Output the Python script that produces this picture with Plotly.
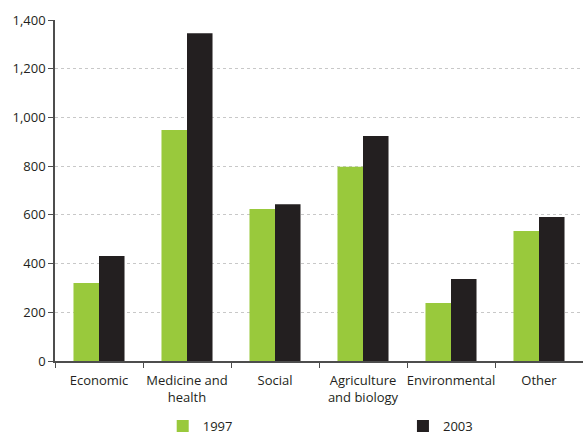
import plotly.graph_objects as go

categories = ["Economic", "Medicine and<br>health", "Social",
              "Agriculture<br>and biology", "Environmental", "Other"]
values_1997 = [320, 948, 624, 797, 238, 534]
values_2003 = [431, 1346, 644, 924, 337, 591]
y_ticks = [0, 200, 400, 600, 800, 1000, 1200, 1400]

GREEN = "#99c93c"
DARK = "#231f20"
FONT = "Open Sans"
FS = 13

fig = go.Figure()
fig.add_trace(go.Bar(name="1997", x=categories, y=values_1997,
                     marker=dict(color=GREEN, line=dict(width=0)),
                     legend="legend"))
fig.add_trace(go.Bar(name="2003", x=categories, y=values_2003,
                     marker=dict(color=DARK, line=dict(width=0)),
                     legend="legend2"))

legend_style = dict(orientation="h", yanchor="top", xanchor="left",
                    bgcolor="rgba(0,0,0,0)", itemwidth=30,
                    font=dict(family=FONT, size=FS, color=DARK))

fig.update_layout(
    width=583, height=434,
    margin=dict(l=55, r=0, t=20, b=73, autoexpand=False),
    paper_bgcolor="white", plot_bgcolor="white",
    barmode="group", bargap=0.42, bargroupgap=0,
    font=dict(family=FONT, size=FS, color=DARK),
    showlegend=True,
    legend=dict(x=0.204, y=-0.147, **legend_style),
    legend2=dict(x=0.659, y=-0.147, **legend_style),
)
fig.update_xaxes(
    showline=True, linecolor="#4d4d4d", linewidth=1.5,
    ticks="outside", tickson="boundaries", ticklen=5, tickcolor="#4d4d4d",
    tickangle=0, automargin=False, ticklabelstandoff=7,
    showgrid=False, tickfont=dict(family=FONT, size=FS, color=DARK),
)
fig.update_yaxes(
    range=[0, 1400], tickvals=y_ticks, tickformat=",",
    showline=True, linecolor="#4d4d4d", linewidth=1.5,
    ticks="outside", ticklen=5, tickcolor="#4d4d4d", automargin=False,
    showgrid=True, gridcolor="#c8c8c8", gridwidth=1, griddash="3px,3px",
    zeroline=False, tickfont=dict(family=FONT, size=FS, color=DARK),
)

fig.write_html("out.html")
